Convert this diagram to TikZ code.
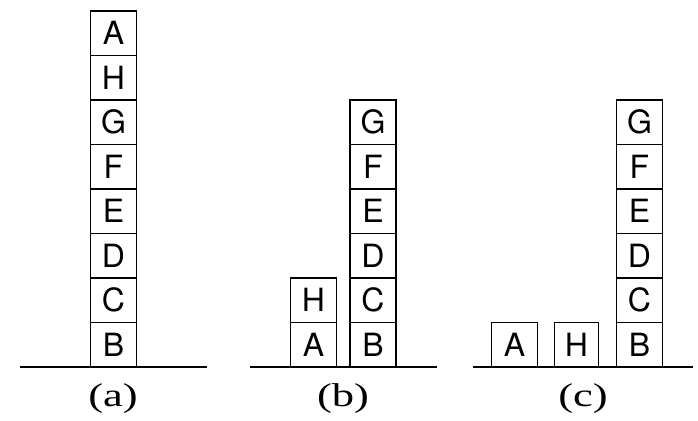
\documentclass[tikz,border=0pt]{standalone}
\usepackage{fontspec}
\usepackage{graphicx}
\setmainfont{Liberation Serif}
\newfontfamily\blkfont{TeX Gyre Heros}
\newcommand{\panellab}[1]{\scalebox{1.35}[1]{#1}}
\begin{document}
\begin{tikzpicture}[x=1pt,y=1pt,
  blk/.style={draw,line width=1.8pt,outer sep=0pt,minimum width=46pt,minimum height=44.5pt,inner sep=0pt,font=\blkfont\fontsize{32}{32}\selectfont},
  ground/.style={line width=1.8pt},
  lab/.style={font=\fontsize{33}{33}\selectfont,inner sep=0pt}]
\useasboundingbox (0,0) rectangle (698,420);
% panel (a): bottom at image y=367 -> 53
\node[blk] (aB) at (113.5,75.25) {B};
\node[blk,anchor=south] (aC) at (aB.north) {C};
\node[blk,anchor=south] (aD) at (aC.north) {D};
\node[blk,anchor=south] (aE) at (aD.north) {E};
\node[blk,anchor=south] (aF) at (aE.north) {F};
\node[blk,anchor=south] (aG) at (aF.north) {G};
\node[blk,anchor=south] (aH) at (aG.north) {H};
\node[blk,anchor=south] (aA) at (aH.north) {A};
\coordinate (ga1) at (20,53);
\coordinate (ga2) at (207,53);
\draw[ground] (ga1) -- (ga2);
\node[lab] (la) at (113,21) {\panellab{(a)}};
% panel (b)
\node[blk] (bB) at (373,75.25) {B};
\node[blk,anchor=south] (bC) at (bB.north) {C};
\node[blk,anchor=south] (bD) at (bC.north) {D};
\node[blk,anchor=south] (bE) at (bD.north) {E};
\node[blk,anchor=south] (bF) at (bE.north) {F};
\node[blk,anchor=south] (bG) at (bF.north) {G};
\node[blk] (bA) at (313.5,75.25) {A};
\node[blk,anchor=south] (bH) at (bA.north) {H};
\coordinate (gb1) at (250,53);
\coordinate (gb2) at (437,53);
\draw[ground] (gb1) -- (gb2);
\node[lab] (lb) at (343,21) {\panellab{(b)}};
% panel (c)
\node[blk] (cB) at (639.5,75.25) {B};
\node[blk,anchor=south] (cC) at (cB.north) {C};
\node[blk,anchor=south] (cD) at (cC.north) {D};
\node[blk,anchor=south] (cE) at (cD.north) {E};
\node[blk,anchor=south] (cF) at (cE.north) {F};
\node[blk,anchor=south] (cG) at (cF.north) {G};
\node[blk] (cA) at (514.5,75.25) {A};
\node[blk,minimum width=44pt] (cH) at (576.5,75.25) {H};
\coordinate (gc1) at (473,53);
\coordinate (gc2) at (693,53);
\draw[ground] (gc1) -- (gc2);
\node[lab] (lc) at (583,21) {\panellab{(c)}};
\end{tikzpicture}
\end{document}
